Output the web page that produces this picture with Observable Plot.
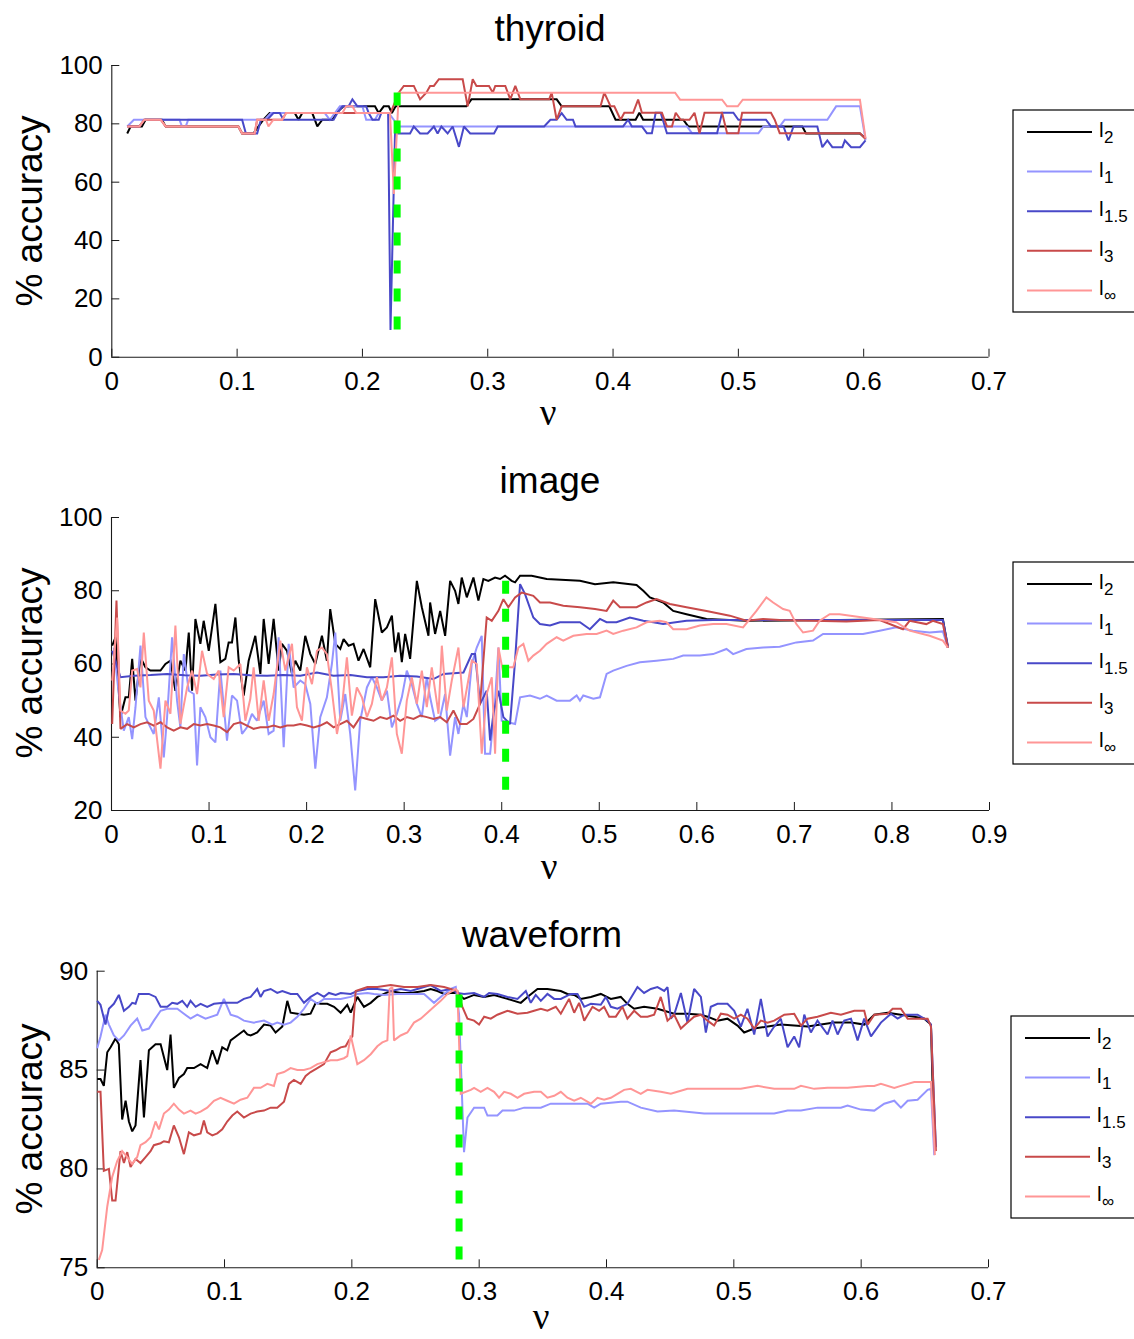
<!DOCTYPE html>
<html><head><meta charset="utf-8">
<script src="https://cdn.jsdelivr.net/npm/d3@7"></script>
<script src="https://cdn.jsdelivr.net/npm/@observablehq/plot@0.6"></script>
<style>
body{margin:0;background:#fff;}
#chart{position:relative;width:1134px;height:1339px;overflow:hidden;background:#fff;font-family:"Liberation Sans",Arial,Helvetica,sans-serif;}
#chart > svg.panel{position:absolute;left:0;}
#overlay{position:absolute;left:0;top:0;pointer-events:none;}
</style>
</head><body><div id="chart"></div>
<script>
// ---------- data: [nu, % accuracy] ----------
const seriesNames = ["l2", "l1", "l1.5", "l3", "l∞"];
const legendSubs = ["2", "1", "1.5", "3", "∞"];
const seriesColors = ["#000000", "#9494ff", "#4848c8", "#c84a4a", "#ff9696"];

const thyroidXTicks = [0, 0.1, 0.2, 0.3, 0.4, 0.5, 0.6, 0.7];
const thyroidYTicks = [0, 20, 40, 60, 80, 100];
const thyroidNu0 = 0.2277;
const thyroidL2 = [[0.0123,76.7],[0.015,79.1],[0.024,79.1],[0.027,81.4],[0.04,81.4],[0.043,79.1],[0.101,79.1],[0.104,76.7],[0.113,76.7],[0.117,79.1],[0.121,81.4],[0.126,83.7],[0.146,83.7],[0.149,81.4],[0.152,83.7],[0.16,83.7],[0.164,79.1],[0.168,81.4],[0.176,81.4],[0.179,83.7],[0.185,86.0],[0.21,86.0],[0.213,83.7],[0.217,86.0],[0.221,86.0],[0.2235,83.7],[0.2265,86.0],[0.283,86.0],[0.287,88.4],[0.355,88.4],[0.359,86.0],[0.397,86.0],[0.402,81.4],[0.418,81.4],[0.421,83.8],[0.424,81.4],[0.456,81.4],[0.46,79.1],[0.551,79.1],[0.554,76.7],[0.597,76.7],[0.6015,75.0]];
const thyroidL1 = [[0.0123,79.1],[0.0176,81.4],[0.054,81.4],[0.056,79.1],[0.059,79.1],[0.061,81.4],[0.122,81.4],[0.127,83.7],[0.17,83.7],[0.174,81.4],[0.178,83.7],[0.182,86.0],[0.2,86.0],[0.203,81.4],[0.21,81.4],[0.213,83.7],[0.221,83.7],[0.225,81.4],[0.229,79.1],[0.459,79.1],[0.463,76.8],[0.516,76.8],[0.52,79.1],[0.533,79.1],[0.537,81.4],[0.571,81.4],[0.578,86.0],[0.597,86.0],[0.6015,74.5]];
const thyroidL15 = [[0.0123,79.1],[0.022,79.1],[0.026,81.4],[0.104,81.4],[0.107,76.7],[0.116,76.7],[0.119,81.4],[0.124,81.4],[0.129,83.7],[0.134,83.7],[0.137,81.4],[0.177,81.4],[0.18,83.7],[0.184,86.0],[0.189,86.0],[0.192,88.4],[0.196,86.0],[0.203,86.0],[0.205,83.7],[0.208,81.4],[0.213,81.4],[0.215,83.7],[0.2205,83.7],[0.2224,9.3],[0.226,76.7],[0.238,76.7],[0.241,79.1],[0.246,76.7],[0.252,76.7],[0.257,79.1],[0.26,76.7],[0.263,79.1],[0.268,76.7],[0.272,79.1],[0.277,72.1],[0.281,79.1],[0.286,76.7],[0.305,76.7],[0.308,79.1],[0.345,79.1],[0.35,81.4],[0.355,81.4],[0.359,83.7],[0.363,81.4],[0.368,81.4],[0.37,79.1],[0.408,79.1],[0.412,81.4],[0.415,79.1],[0.423,79.1],[0.427,76.8],[0.431,76.8],[0.434,83.8],[0.438,83.8],[0.443,76.8],[0.483,76.8],[0.487,83.8],[0.496,83.8],[0.5,81.4],[0.522,81.4],[0.526,79.1],[0.536,79.1],[0.54,74.3],[0.544,79.1],[0.563,79.1],[0.567,72.0],[0.571,74.3],[0.575,72.0],[0.583,72.0],[0.585,74.3],[0.59,72.0],[0.597,72.0],[0.6015,74.3]];
const thyroidL3 = [[0.0123,79.1],[0.022,79.1],[0.026,81.4],[0.039,81.4],[0.043,79.1],[0.101,79.1],[0.104,76.7],[0.114,76.7],[0.116,81.4],[0.136,81.4],[0.139,83.7],[0.2224,83.7],[0.229,90.7],[0.233,93.0],[0.241,93.0],[0.246,88.4],[0.251,90.7],[0.254,93.0],[0.257,93.0],[0.261,95.3],[0.28,95.3],[0.284,86.0],[0.288,95.3],[0.291,93.0],[0.301,93.0],[0.304,90.7],[0.306,93.0],[0.314,93.0],[0.318,88.4],[0.322,93.0],[0.326,88.4],[0.349,88.4],[0.351,90.7],[0.355,81.4],[0.359,86.0],[0.39,86.0],[0.393,90.7],[0.398,86.0],[0.401,86.0],[0.406,81.4],[0.409,83.8],[0.416,83.8],[0.42,88.3],[0.423,83.8],[0.439,83.8],[0.443,79.1],[0.447,79.1],[0.45,83.8],[0.454,81.4],[0.461,81.4],[0.465,83.8],[0.469,76.8],[0.473,83.8],[0.487,83.8],[0.491,76.8],[0.5,76.8],[0.503,83.8],[0.526,83.8],[0.529,81.4],[0.533,76.8],[0.597,76.8],[0.6015,74.8]];
const thyroidLinf = [[0.0123,79.1],[0.022,79.1],[0.026,81.4],[0.039,81.4],[0.043,79.1],[0.101,79.1],[0.104,76.7],[0.114,76.7],[0.116,81.4],[0.123,81.4],[0.125,79.1],[0.129,81.4],[0.136,81.4],[0.139,83.7],[0.184,83.7],[0.187,86.0],[0.192,86.0],[0.195,83.7],[0.222,83.7],[0.2251,56.0],[0.229,90.7],[0.4495,90.7],[0.4535,88.3],[0.487,88.3],[0.491,86.0],[0.4995,86.0],[0.5035,88.3],[0.597,88.3],[0.6015,75.0]];

const imageXTicks = [0, 0.1, 0.2, 0.3, 0.4, 0.5, 0.6, 0.7, 0.8, 0.9];
const imageYTicks = [20, 40, 60, 80, 100];
const imageNu0 = 0.404;
const imageL2 = [[0.0007,65.0],[0.0041,67.3],[0.0092,45.5],[0.0143,50.9],[0.0177,50.9],[0.0212,61.4],[0.0246,50.0],[0.0297,61.8],[0.0348,59.1],[0.0399,58.2],[0.0451,58.2],[0.0502,58.2],[0.0553,60.0],[0.0604,60.9],[0.0655,52.7],[0.0706,60.9],[0.0758,58.2],[0.0792,68.6],[0.0826,52.7],[0.086,72.3],[0.0911,65.5],[0.0945,71.8],[0.0997,63.6],[0.1065,76.4],[0.1116,60.5],[0.1167,61.4],[0.1201,65.9],[0.1235,65.9],[0.127,72.7],[0.1304,60.9],[0.1355,51.4],[0.1406,60.9],[0.1474,67.7],[0.1526,57.3],[0.156,72.3],[0.1611,60.0],[0.1662,72.3],[0.1713,58.2],[0.1747,65.5],[0.1799,63.6],[0.185,57.3],[0.1884,60.9],[0.1935,58.2],[0.1986,67.7],[0.2038,62.7],[0.2089,60.0],[0.2157,67.7],[0.2208,60.9],[0.2242,75.0],[0.2294,65.5],[0.2345,64.1],[0.2379,66.8],[0.243,65.0],[0.2481,65.5],[0.2532,60.9],[0.2584,64.1],[0.2652,59.1],[0.2703,77.7],[0.2771,68.6],[0.2823,70.0],[0.2874,73.2],[0.2908,63.2],[0.2942,68.6],[0.2976,60.5],[0.301,68.2],[0.3061,61.4],[0.313,82.7],[0.3181,75.5],[0.3249,67.7],[0.3266,76.8],[0.3317,68.2],[0.3369,74.5],[0.342,67.7],[0.3471,82.7],[0.3522,80.0],[0.3556,76.4],[0.359,83.6],[0.3642,78.2],[0.371,83.6],[0.3761,77.3],[0.3812,83.2],[0.3863,82.7],[0.3932,83.6],[0.3983,83.2],[0.4034,84.1],[0.4102,82.7],[0.4137,82.3],[0.4188,84.1],[0.4307,84.1],[0.4461,83.2],[0.4802,82.7],[0.4956,81.8],[0.5143,82.3],[0.5382,81.6],[0.5451,80.0],[0.5519,78.2],[0.5655,76.8],[0.5758,74.5],[0.5894,73.6],[0.6099,72.3],[0.6508,71.8],[0.8522,72.3],[0.8573,64.5]];
const imageL1 = [[0.0024,64.5],[0.0075,51.8],[0.0126,41.8],[0.0177,45.5],[0.0212,39.5],[0.0246,48.2],[0.0297,65.0],[0.0348,45.5],[0.0399,42.7],[0.0433,40.9],[0.0485,50.9],[0.0536,34.5],[0.057,45.5],[0.0621,67.3],[0.0672,50.0],[0.0706,42.7],[0.0741,62.7],[0.0792,52.7],[0.0843,51.8],[0.0877,32.3],[0.0911,48.2],[0.0962,45.5],[0.1014,40.0],[0.1065,38.6],[0.1116,58.2],[0.1184,39.1],[0.1235,51.4],[0.1287,50.0],[0.1338,40.9],[0.1389,42.7],[0.144,46.4],[0.1491,44.5],[0.156,50.0],[0.1611,40.9],[0.1662,41.8],[0.1713,67.3],[0.1765,37.3],[0.1816,65.5],[0.1867,53.6],[0.1935,55.5],[0.1986,54.5],[0.2038,49.1],[0.2089,31.4],[0.214,45.5],[0.2208,50.9],[0.2259,60.0],[0.2294,68.6],[0.2345,44.5],[0.2396,51.8],[0.2447,40.9],[0.2498,25.5],[0.2549,44.5],[0.2618,53.6],[0.2669,56.4],[0.272,53.6],[0.2771,50.0],[0.2823,52.7],[0.2874,42.7],[0.2925,46.4],[0.2976,50.9],[0.3027,58.2],[0.3078,54.5],[0.313,49.1],[0.3181,45.5],[0.3232,56.4],[0.3266,50.9],[0.3317,44.5],[0.3369,45.5],[0.342,51.8],[0.3471,35.0],[0.3522,45.5],[0.3556,40.9],[0.3608,49.1],[0.3642,45.5],[0.3693,60.0],[0.3744,64.5],[0.3795,67.7],[0.3829,35.5],[0.3881,35.5],[0.3932,50.0],[0.3966,64.5],[0.4,44.5],[0.4137,43.6],[0.4188,50.9],[0.429,51.4],[0.4392,50.5],[0.4461,51.4],[0.4563,50.0],[0.47,50.0],[0.4768,51.4],[0.4802,50.0],[0.4836,51.4],[0.4939,50.5],[0.5007,50.9],[0.5075,57.3],[0.5143,58.2],[0.528,59.5],[0.5416,60.5],[0.5587,60.9],[0.5758,61.4],[0.586,62.3],[0.6031,62.3],[0.6167,62.7],[0.6304,64.1],[0.6372,62.7],[0.6508,64.1],[0.6679,64.5],[0.685,64.7],[0.702,65.9],[0.7191,66.4],[0.7294,68.2],[0.7532,68.2],[0.7703,68.2],[0.7874,69.1],[0.8044,70.0],[0.8215,69.1],[0.8386,68.6],[0.8522,68.9],[0.8573,64.5]];
const imageL15 = [[0.0007,63.6],[0.0092,56.4],[0.0229,56.8],[0.04,57.0],[0.057,57.3],[0.075,56.9],[0.0911,56.8],[0.108,57.1],[0.1253,57.3],[0.142,56.9],[0.1594,56.8],[0.176,57.0],[0.1935,56.8],[0.2106,57.7],[0.2276,56.8],[0.245,57.0],[0.2618,56.4],[0.2788,56.4],[0.2959,56.8],[0.313,56.6],[0.33,55.9],[0.3403,57.3],[0.3608,57.7],[0.3693,62.7],[0.3727,62.7],[0.3778,49.1],[0.3846,52.7],[0.3881,39.1],[0.3915,46.4],[0.3966,52.7],[0.4017,45.5],[0.4085,43.6],[0.4137,60.9],[0.4188,81.8],[0.4239,79.1],[0.4324,72.7],[0.4392,70.9],[0.4495,70.5],[0.4597,71.4],[0.4802,71.4],[0.4904,69.5],[0.5007,72.3],[0.5075,71.4],[0.5177,71.4],[0.5314,72.7],[0.5451,71.8],[0.5553,71.4],[0.5655,70.9],[0.5894,71.8],[0.6167,72.0],[0.6508,72.0],[0.8522,72.0],[0.8573,65.0]];
const imageL3 = [[0.0007,43.6],[0.0051,77.3],[0.0092,42.3],[0.016,43.6],[0.0229,42.7],[0.0297,43.6],[0.0365,44.1],[0.0433,43.2],[0.0502,44.1],[0.057,42.7],[0.0638,41.8],[0.0706,42.7],[0.0775,42.3],[0.0843,43.6],[0.0911,43.2],[0.098,43.6],[0.1048,43.2],[0.1116,42.7],[0.1184,41.4],[0.1253,43.6],[0.1321,44.1],[0.1389,43.2],[0.1457,42.3],[0.1526,42.7],[0.1594,42.7],[0.1662,43.2],[0.173,42.7],[0.1799,43.2],[0.1867,43.2],[0.1935,43.6],[0.2003,43.2],[0.2072,42.7],[0.214,43.2],[0.2208,44.1],[0.2276,42.7],[0.2345,43.6],[0.2413,44.5],[0.2481,42.7],[0.2549,45.5],[0.2618,45.0],[0.2686,44.5],[0.2754,45.5],[0.2823,45.0],[0.2891,45.9],[0.2959,44.5],[0.3027,45.5],[0.3096,45.0],[0.3164,45.9],[0.3232,45.5],[0.33,45.0],[0.3369,45.5],[0.3437,44.1],[0.3505,47.3],[0.3573,43.6],[0.3642,43.6],[0.371,45.0],[0.3778,49.1],[0.3846,72.7],[0.3898,71.8],[0.3966,74.5],[0.4017,77.7],[0.4068,75.5],[0.4137,78.2],[0.4205,79.5],[0.4324,78.6],[0.4392,76.8],[0.4495,76.8],[0.4631,75.9],[0.4802,75.5],[0.4956,75.0],[0.5075,74.5],[0.5143,77.3],[0.5212,75.5],[0.5382,75.5],[0.5485,76.8],[0.5587,77.7],[0.5724,76.4],[0.5894,75.5],[0.6099,74.5],[0.6338,73.2],[0.6508,71.8],[0.6679,72.3],[0.685,72.0],[0.7191,71.8],[0.7532,71.6],[0.7874,72.0],[0.8113,69.5],[0.8181,71.8],[0.8352,70.9],[0.842,71.8],[0.8522,70.9],[0.8573,64.4]];
const imageLinf = [[0.0007,55.5],[0.0058,72.7],[0.0092,47.3],[0.0143,46.4],[0.0177,47.3],[0.0212,58.2],[0.0263,58.6],[0.0297,53.6],[0.0331,68.6],[0.0382,50.0],[0.0433,47.3],[0.0502,31.4],[0.0553,50.0],[0.0604,46.4],[0.0655,70.5],[0.0706,43.6],[0.0775,53.6],[0.0826,58.2],[0.0877,51.8],[0.0928,63.6],[0.098,57.3],[0.1048,55.9],[0.1099,58.2],[0.115,45.5],[0.1201,59.1],[0.1253,58.2],[0.1321,60.0],[0.1372,44.5],[0.1423,50.5],[0.1457,59.1],[0.1509,44.5],[0.156,55.5],[0.1611,44.5],[0.1662,51.8],[0.173,66.4],[0.1782,58.2],[0.185,65.5],[0.1901,48.2],[0.1952,44.5],[0.2003,59.1],[0.2055,54.5],[0.2106,63.6],[0.2157,64.5],[0.2208,62.7],[0.2259,52.7],[0.2311,40.9],[0.2362,48.2],[0.2413,61.8],[0.2464,45.9],[0.2515,53.6],[0.2567,50.9],[0.2618,45.5],[0.2669,49.1],[0.272,56.4],[0.2771,50.0],[0.2823,53.6],[0.2874,61.8],[0.2925,40.9],[0.2976,35.5],[0.3027,50.0],[0.3078,56.4],[0.313,49.1],[0.3181,58.2],[0.3232,48.2],[0.3283,59.1],[0.3352,46.4],[0.3386,65.0],[0.3437,47.3],[0.3488,55.5],[0.3556,64.5],[0.3608,48.2],[0.3693,60.9],[0.3744,60.0],[0.3795,35.5],[0.3846,51.8],[0.3898,56.4],[0.3932,35.5],[0.3966,64.5],[0.4017,57.3],[0.4068,59.1],[0.4119,59.1],[0.4171,64.5],[0.4222,65.5],[0.4273,60.9],[0.4324,62.3],[0.4392,63.6],[0.4461,65.5],[0.4563,67.3],[0.4631,66.4],[0.4734,67.7],[0.487,68.2],[0.4973,68.2],[0.5075,69.1],[0.5143,68.2],[0.5246,69.1],[0.5382,70.0],[0.5485,71.4],[0.5621,71.8],[0.5689,71.4],[0.5758,69.5],[0.5894,69.5],[0.6031,70.5],[0.6167,70.9],[0.6304,70.9],[0.6474,70.0],[0.6611,74.5],[0.6713,78.2],[0.6782,76.8],[0.6884,75.0],[0.6952,74.5],[0.702,70.9],[0.7089,68.6],[0.7191,69.1],[0.7259,71.8],[0.7362,73.6],[0.7464,73.6],[0.7703,72.7],[0.8044,71.4],[0.8181,69.1],[0.8386,67.7],[0.8522,66.4],[0.8573,64.5]];

const waveformXTicks = [0, 0.1, 0.2, 0.3, 0.4, 0.5, 0.6, 0.7];
const waveformYTicks = [75, 80, 85, 90];
const waveformNu0 = 0.2842;
const waveformL2 = [[0.0,84.55],[0.0026,84.55],[0.0052,84.2],[0.0079,85.9],[0.0105,86.15],[0.0144,86.6],[0.017,86.3],[0.0196,82.5],[0.0223,83.45],[0.0249,82.4],[0.0275,81.9],[0.0301,82.2],[0.034,85.5],[0.0367,82.6],[0.0406,86.0],[0.0458,86.3],[0.0498,86.3],[0.055,85.0],[0.0576,86.8],[0.0602,84.1],[0.0642,84.6],[0.0681,84.8],[0.0707,85.1],[0.076,85.1],[0.0812,85.3],[0.0864,85.1],[0.0904,86.0],[0.0943,85.3],[0.0982,86.15],[0.1021,86.0],[0.1048,86.5],[0.11,86.75],[0.1152,87.0],[0.1179,86.8],[0.1205,86.75],[0.1257,86.9],[0.131,87.3],[0.1362,87.25],[0.1401,86.9],[0.1454,87.2],[0.1493,88.5],[0.1519,87.9],[0.1572,87.85],[0.1624,87.8],[0.1676,87.85],[0.1716,88.4],[0.1755,88.35],[0.1807,88.35],[0.186,88.2],[0.1912,87.9],[0.1964,88.3],[0.1991,87.9],[0.2043,88.7],[0.2095,88.2],[0.2148,88.4],[0.22,88.7],[0.2252,88.85],[0.2305,89.0],[0.2383,88.9],[0.2462,88.9],[0.2567,89.0],[0.2619,89.1],[0.2672,89.0],[0.2724,88.85],[0.2776,88.9],[0.2829,88.9],[0.2881,88.6],[0.296,88.8],[0.3039,88.7],[0.3117,88.8],[0.3222,88.6],[0.3327,88.4],[0.3379,88.7],[0.3458,89.1],[0.3536,89.1],[0.3641,89.0],[0.3693,88.85],[0.3746,88.8],[0.3798,88.6],[0.3877,88.7],[0.3955,88.85],[0.4034,88.6],[0.4112,88.7],[0.4164,88.35],[0.4217,88.1],[0.4295,88.2],[0.44,88.1],[0.4531,87.85],[0.4636,87.85],[0.4741,87.8],[0.4793,87.7],[0.4872,87.5],[0.495,87.6],[0.5029,87.25],[0.5081,86.9],[0.516,87.1],[0.5265,87.2],[0.5369,87.3],[0.5474,87.25],[0.5579,87.2],[0.5684,87.3],[0.5789,87.4],[0.592,87.4],[0.6024,87.3],[0.6103,87.8],[0.6208,87.9],[0.6312,87.8],[0.6417,87.7],[0.6496,87.6],[0.6548,87.3],[0.6574,81.1]];
const waveformL1 = [[0.0,86.1],[0.0026,86.7],[0.0065,87.8],[0.0092,87.3],[0.0131,86.75],[0.017,86.5],[0.021,86.75],[0.0262,87.25],[0.0314,87.6],[0.0354,87.0],[0.0406,87.1],[0.0445,87.5],[0.0498,88.0],[0.055,88.1],[0.0629,88.1],[0.0681,87.85],[0.0733,87.6],[0.0786,87.8],[0.0851,87.6],[0.0943,87.8],[0.0995,88.6],[0.1048,87.8],[0.11,87.7],[0.1152,87.5],[0.1231,87.4],[0.131,87.5],[0.1375,87.3],[0.1414,87.4],[0.1467,87.3],[0.1519,87.4],[0.1572,87.7],[0.1624,88.1],[0.1676,88.6],[0.1729,88.35],[0.1781,88.6],[0.1833,88.6],[0.1912,88.6],[0.1991,88.7],[0.2043,88.85],[0.2122,88.9],[0.2174,88.85],[0.2252,88.8],[0.2357,88.85],[0.2462,88.85],[0.2567,88.85],[0.2645,88.4],[0.2724,88.85],[0.2776,89.1],[0.2816,89.2],[0.2842,87.8],[0.2881,80.85],[0.2908,82.6],[0.296,83.1],[0.3039,83.1],[0.3065,82.7],[0.3143,82.7],[0.3183,82.95],[0.3274,82.95],[0.3353,83.1],[0.3484,83.1],[0.3562,83.3],[0.3851,83.3],[0.3903,83.1],[0.3955,83.3],[0.4112,83.4],[0.4164,83.4],[0.4269,83.1],[0.44,82.9],[0.4531,82.95],[0.4767,82.8],[0.5317,82.8],[0.5422,82.95],[0.5527,82.95],[0.5657,83.1],[0.5841,83.1],[0.5893,83.2],[0.5998,83.0],[0.6103,82.95],[0.6181,83.3],[0.626,83.45],[0.6312,83.1],[0.6365,83.45],[0.6443,83.5],[0.6522,84.0],[0.6548,84.05],[0.6574,80.7]];
const waveformL15 = [[0.0,88.5],[0.0026,88.3],[0.0065,87.3],[0.0092,88.1],[0.0131,88.35],[0.017,88.8],[0.021,88.0],[0.0249,88.2],[0.0275,88.4],[0.0301,88.35],[0.0327,88.85],[0.0406,88.85],[0.0458,88.7],[0.0498,88.2],[0.055,88.2],[0.0589,88.4],[0.0629,88.35],[0.0668,88.5],[0.0707,88.2],[0.0733,88.5],[0.0773,88.2],[0.0812,88.35],[0.0864,88.2],[0.0917,88.35],[0.0995,88.4],[0.11,88.4],[0.1152,88.6],[0.1205,88.7],[0.1257,89.1],[0.1283,88.7],[0.131,89.0],[0.1362,89.1],[0.1414,88.9],[0.1454,89.0],[0.1519,88.85],[0.1572,88.85],[0.1624,88.4],[0.1676,88.7],[0.1729,88.9],[0.1781,88.7],[0.182,88.9],[0.1873,88.8],[0.1912,88.9],[0.1991,88.85],[0.2043,89.0],[0.2122,89.1],[0.22,89.1],[0.2305,89.0],[0.2383,89.1],[0.2462,89.0],[0.2567,89.2],[0.2619,89.3],[0.2698,89.0],[0.2776,89.1],[0.2829,88.9],[0.2881,88.85],[0.296,88.9],[0.3039,88.7],[0.3078,88.9],[0.3143,88.85],[0.3222,88.7],[0.3301,88.6],[0.3366,89.0],[0.3405,88.4],[0.3444,88.8],[0.3484,88.5],[0.3536,88.85],[0.3589,88.6],[0.3641,88.6],[0.372,88.85],[0.3772,88.85],[0.3825,88.2],[0.3877,88.35],[0.3955,88.3],[0.3995,88.7],[0.4034,88.2],[0.4086,88.1],[0.4164,88.35],[0.4243,89.2],[0.4295,88.9],[0.4348,89.1],[0.44,89.2],[0.4453,89.0],[0.4479,89.2],[0.4505,87.6],[0.4531,87.8],[0.4584,88.9],[0.4636,87.4],[0.4688,89.1],[0.4741,88.7],[0.478,86.9],[0.4819,88.2],[0.4872,88.35],[0.495,88.35],[0.5003,88.0],[0.5055,87.2],[0.5107,88.1],[0.516,86.8],[0.5212,88.6],[0.5265,86.7],[0.5317,87.2],[0.5369,87.6],[0.5422,86.15],[0.5474,86.7],[0.5513,86.15],[0.5553,87.8],[0.5605,86.9],[0.5657,87.5],[0.5736,86.8],[0.5775,87.5],[0.5815,86.8],[0.5867,87.5],[0.592,87.6],[0.5972,86.5],[0.6024,87.6],[0.6077,86.7],[0.6155,87.4],[0.6234,87.85],[0.6286,87.6],[0.6339,87.8],[0.6443,87.8],[0.6522,87.5],[0.6548,87.3],[0.6587,81.1]];
const waveformL3 = [[0.0,83.9],[0.0026,83.9],[0.0052,79.9],[0.0092,80.0],[0.0118,78.4],[0.0144,78.4],[0.0183,80.9],[0.021,80.3],[0.0236,80.85],[0.0262,80.1],[0.0301,80.5],[0.034,80.3],[0.038,80.6],[0.0419,80.9],[0.0445,81.2],[0.0498,81.3],[0.0524,81.4],[0.0563,81.35],[0.0602,82.2],[0.0642,81.6],[0.0681,80.75],[0.072,81.85],[0.076,81.7],[0.0812,81.8],[0.0838,82.45],[0.0864,81.85],[0.0904,81.7],[0.0943,81.8],[0.0982,82.0],[0.1021,82.4],[0.1061,82.7],[0.11,82.9],[0.1152,82.6],[0.1205,82.8],[0.1257,82.9],[0.131,82.95],[0.1362,83.1],[0.1414,83.1],[0.1467,83.4],[0.1506,84.3],[0.1545,84.5],[0.1598,84.3],[0.1637,84.7],[0.1676,84.9],[0.1729,85.1],[0.1781,85.3],[0.1833,85.9],[0.1873,86.0],[0.1912,86.15],[0.1951,86.2],[0.1977,86.5],[0.2004,86.7],[0.203,89.0],[0.2122,89.2],[0.22,89.2],[0.2305,89.3],[0.241,89.2],[0.2514,89.2],[0.2619,89.3],[0.2724,89.2],[0.2776,89.1],[0.2829,89.0],[0.2868,88.2],[0.2908,87.6],[0.296,87.5],[0.2999,87.3],[0.3039,87.7],[0.3091,87.6],[0.3143,87.8],[0.3222,88.0],[0.3301,87.85],[0.3379,87.9],[0.3431,88.0],[0.3484,88.1],[0.3536,88.0],[0.3602,88.2],[0.3641,87.85],[0.3706,88.6],[0.3746,87.9],[0.3785,88.4],[0.3825,87.5],[0.389,88.2],[0.3942,88.0],[0.3981,88.2],[0.4021,87.7],[0.4073,87.7],[0.4125,88.2],[0.4164,87.6],[0.4217,88.0],[0.4269,87.7],[0.4322,87.7],[0.4374,87.8],[0.4426,88.7],[0.4479,87.5],[0.4531,87.8],[0.4584,87.1],[0.4636,87.4],[0.4688,87.7],[0.4741,87.8],[0.4793,87.5],[0.4845,87.25],[0.4898,87.85],[0.495,87.8],[0.5003,87.6],[0.5055,87.8],[0.5107,87.6],[0.516,87.1],[0.5212,87.5],[0.5265,87.4],[0.5317,87.5],[0.5396,87.8],[0.5474,87.85],[0.5527,87.25],[0.5579,87.6],[0.5657,87.7],[0.5762,87.9],[0.5841,87.8],[0.5946,88.0],[0.6024,88.0],[0.6051,87.3],[0.6103,87.8],[0.6208,87.85],[0.6247,88.1],[0.6312,88.1],[0.6365,87.6],[0.6443,87.6],[0.6522,87.6],[0.6548,87.2],[0.6587,80.9]];
const waveformLinf = [[0.0013,75.4],[0.0039,75.9],[0.0079,78.1],[0.0118,79.6],[0.0157,80.4],[0.0196,80.9],[0.0236,80.6],[0.0275,80.25],[0.0314,80.6],[0.034,81.2],[0.038,81.35],[0.0419,81.6],[0.0458,82.4],[0.0485,82.0],[0.0524,82.8],[0.0563,83.0],[0.0602,83.3],[0.0642,83.0],[0.0681,82.8],[0.0733,82.95],[0.0773,82.8],[0.0812,82.9],[0.0864,83.1],[0.0917,83.45],[0.0969,83.6],[0.1021,83.45],[0.1074,83.3],[0.1126,83.5],[0.1179,83.6],[0.1231,84.1],[0.1283,84.1],[0.1336,84.3],[0.1388,84.2],[0.1414,84.8],[0.1467,84.9],[0.1519,85.1],[0.1572,85.0],[0.1624,85.0],[0.1676,85.1],[0.1729,85.3],[0.1781,85.4],[0.1833,85.5],[0.1886,85.5],[0.1938,85.6],[0.1964,85.7],[0.1991,86.75],[0.2043,85.3],[0.2095,85.5],[0.2148,85.8],[0.22,86.2],[0.2239,86.4],[0.2279,86.5],[0.2297,89.1],[0.2318,89.2],[0.2331,86.5],[0.2383,86.75],[0.2436,86.9],[0.2488,87.4],[0.2541,87.6],[0.2593,87.9],[0.2645,88.2],[0.2698,88.5],[0.275,88.85],[0.2789,89.0],[0.2816,89.1],[0.2829,89.0],[0.2855,83.8],[0.2934,84.0],[0.296,84.1],[0.3012,83.9],[0.3065,84.1],[0.3117,83.9],[0.3156,83.6],[0.3196,83.9],[0.3248,83.8],[0.3301,83.6],[0.3353,83.8],[0.3431,83.9],[0.3484,83.9],[0.3536,83.6],[0.3589,83.7],[0.3641,83.9],[0.3693,83.6],[0.3746,83.45],[0.3798,83.6],[0.3877,83.3],[0.3929,83.6],[0.3981,83.5],[0.4034,83.6],[0.4086,83.8],[0.4138,84.0],[0.4191,84.05],[0.4269,83.8],[0.4322,84.0],[0.4426,83.9],[0.4505,83.8],[0.4557,83.9],[0.4636,84.05],[0.4793,84.05],[0.5055,84.05],[0.5186,84.2],[0.5317,84.05],[0.5474,84.05],[0.5527,84.2],[0.5631,84.05],[0.5736,84.1],[0.5893,84.1],[0.6051,84.2],[0.6103,84.2],[0.6155,84.3],[0.626,84.1],[0.6312,84.2],[0.6417,84.4],[0.6522,84.4],[0.6548,84.4],[0.6579,80.7]];

// ---------- layout ----------
const FONT = '"Liberation Sans", Arial, Helvetica, sans-serif';
const panels = [
  {title: "thyroid", top: 0, xDomain: [0, 0.7], yDomain: [0, 100], xTicks: thyroidXTicks, yTicks: thyroidYTicks, nu0: thyroidNu0,
   series: [thyroidL2, thyroidL1, thyroidL15, thyroidL3, thyroidLinf],
   m: {left: 111.3, right: 11.5, top: 65, bottom: 43.3},
   titleX: 550, titleY: 41, ylabX: 42, ylabY: 211, nuX: 548, nuY: 425, leg: {x: 1013, y: 110}},
  {title: "image", top: 450, xDomain: [0, 0.9], yDomain: [20, 100], xTicks: imageXTicks, yTicks: imageYTicks, nu0: imageNu0,
   series: [imageL2, imageL1, imageL15, imageL3, imageLinf],
   m: {left: 111, right: 11, top: 67, bottom: 40},
   titleX: 550, titleY: 493, ylabX: 42, ylabY: 663, nuX: 549, nuY: 879, leg: {x: 1013, y: 562}},
  {title: "waveform", top: 900, xDomain: [0, 0.7], yDomain: [75, 90], xTicks: waveformXTicks, yTicks: waveformYTicks, nu0: waveformNu0,
   series: [waveformL2, waveformL1, waveformL15, waveformL3, waveformLinf],
   m: {left: 96.7, right: 12, top: 70.7, bottom: 32.7},
   titleX: 542, titleY: 947, ylabX: 42, ylabY: 1119, nuX: 541, nuY: 1329, leg: {x: 1011, y: 1016}}
];

const chart = document.getElementById("chart");
const axisColor = "#1a1a1a";

for (const p of panels) {
  const allVals = p.series.flat().map(d => d[1]);
  const lo = d3.min(allVals), hi = d3.max(allVals);
  const marks = [
    Plot.ruleX([p.xDomain[0]], {stroke: axisColor, strokeWidth: 1.1}),
    Plot.ruleY([p.yDomain[0]], {stroke: axisColor, strokeWidth: 1.1}),
    Plot.axisX({ticks: p.xTicks, tickSize: -8, tickPadding: 22, tickFormat: d => String(d), label: null, stroke: axisColor}),
    Plot.axisY({ticks: p.yTicks, tickSize: -8, tickPadding: 17, tickFormat: d => String(d), label: null, stroke: axisColor}),
    ...p.series.map((s, i) => Plot.line(s, {x: d => d[0], y: d => d[1], stroke: seriesColors[i], strokeWidth: 2, strokeLinejoin: "miter", strokeLinecap: "butt", strokeMiterlimit: 2})),
    Plot.ruleX([p.nu0], {y1: lo, y2: hi, stroke: "#00ff00", strokeWidth: 7, strokeDasharray: "13,15"})
  ];
  const svg = Plot.plot({
    width: 1000, height: 400,
    marginLeft: p.m.left, marginRight: p.m.right, marginTop: p.m.top, marginBottom: p.m.bottom,
    x: {domain: p.xDomain}, y: {domain: p.yDomain},
    style: {fontFamily: FONT, fontSize: "26px", color: "#000", background: "transparent", overflow: "visible"},
    marks
  });
  svg.classList.add("panel");
  svg.style.top = p.top + "px";
  svg.style.position = "absolute";
  svg.style.left = "0px";
  chart.appendChild(svg);
}

// ---------- overlay: titles, axis labels, legends ----------
const ns = "http://www.w3.org/2000/svg";
const ov = document.createElementNS(ns, "svg");
ov.setAttribute("id", "overlay");
ov.setAttribute("width", 1134);
ov.setAttribute("height", 1339);
chart.appendChild(ov);
function el(tag, attrs, text) {
  const e = document.createElementNS(ns, tag);
  for (const k in attrs) e.setAttribute(k, attrs[k]);
  if (text != null) e.textContent = text;
  ov.appendChild(e);
  return e;
}
for (const p of panels) {
  el("text", {x: p.titleX, y: p.titleY, "text-anchor": "middle", "font-family": FONT, "font-size": 37, fill: "#000"}, p.title);
  el("text", {transform: `translate(${p.ylabX},${p.ylabY}) rotate(-90)`, "text-anchor": "middle", "font-family": FONT, "font-size": 37, fill: "#000"}, "% accuracy");
  el("text", {x: p.nuX, y: p.nuY, "text-anchor": "middle", "font-family": '"Liberation Serif", "DejaVu Serif", serif', "font-size": 37, fill: "#000"}, "ν");
  const L = p.leg;
  el("rect", {x: L.x, y: L.y, width: 160, height: 202, fill: "#fff", stroke: "#000", "stroke-width": 1.2});
  seriesNames.forEach((name, i) => {
    const ly = L.y + 22 + i * 39.6;
    el("line", {x1: L.x + 14, x2: L.x + 79, y1: ly, y2: ly, stroke: seriesColors[i], "stroke-width": 2});
    el("text", {x: L.x + 86, y: ly + 5, "font-family": FONT, "font-size": 21, fill: "#000"}, "l");
    el("text", {x: L.x + 91, y: ly + 11, "font-family": FONT, "font-size": 17, fill: "#000"}, legendSubs[i]);
  });
}
</script>
</body></html>
